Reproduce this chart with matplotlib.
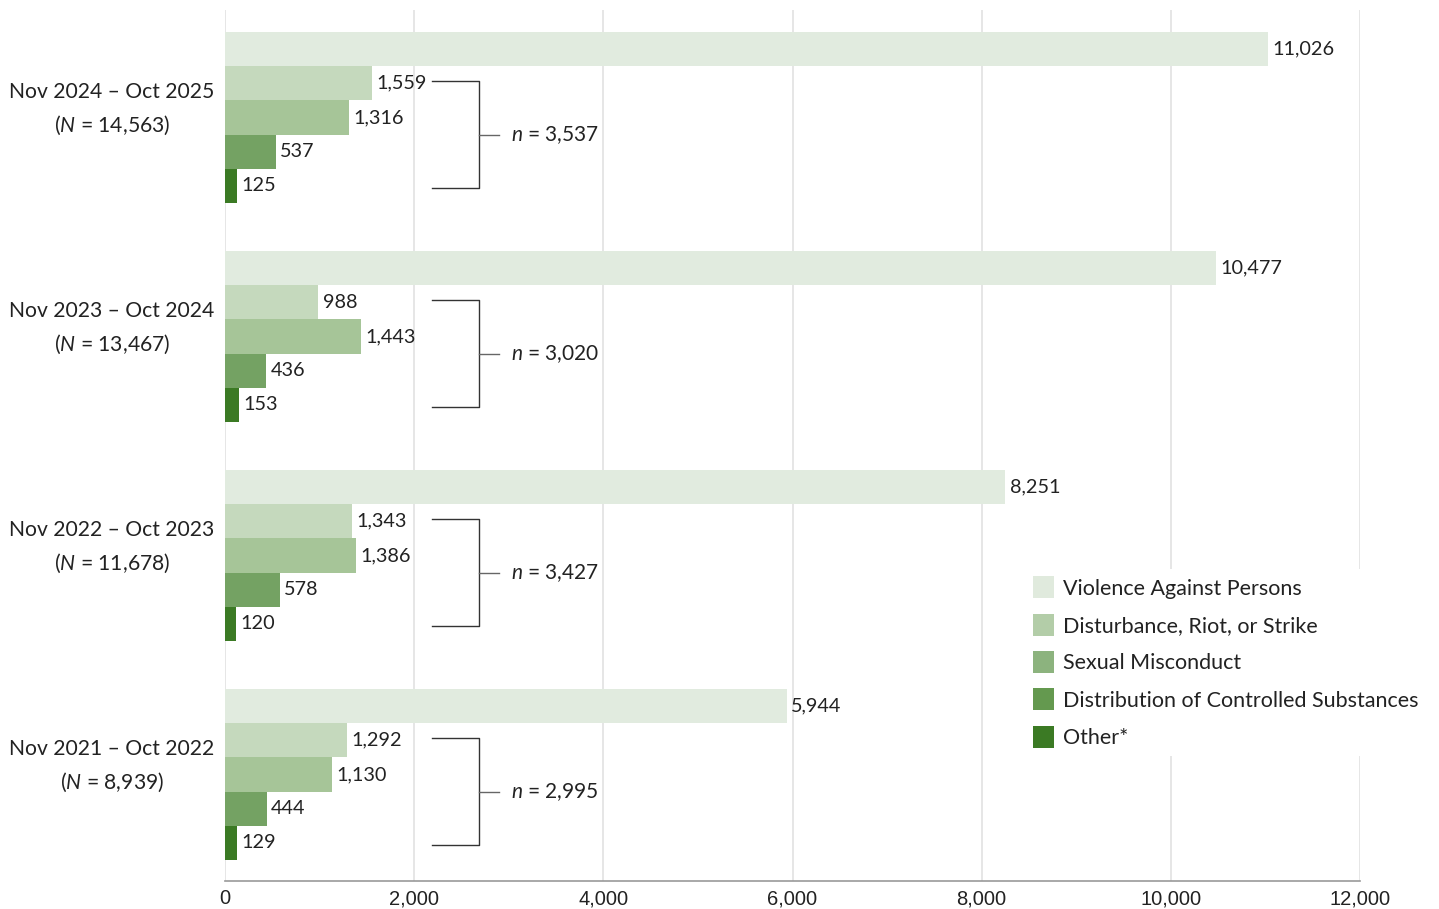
import matplotlib.pyplot as plt
import matplotlib.transforms as mtransforms
from matplotlib.patches import Patch

plt.rcParams['font.family'] = ['Lato', 'DejaVu Sans']
plt.rcParams['mathtext.fontset'] = 'custom'
plt.rcParams['mathtext.rm'] = 'Lato'
plt.rcParams['mathtext.it'] = 'Lato:italic'

periods = ["Nov 2024 \u2013 Oct 2025", "Nov 2023 \u2013 Oct 2024",
           "Nov 2022 \u2013 Oct 2023", "Nov 2021 \u2013 Oct 2022"]
totals = ["14,563", "13,467", "11,678", "8,939"]
subtotals = ["3,537", "3,020", "3,427", "2,995"]
categories = ["Violence Against Persons", "Disturbance, Riot, or Strike",
              "Sexual Misconduct", "Distribution of Controlled Substances", "Other*"]
violence = [11026, 10477, 8251, 5944]
disturbance = [1559, 988, 1343, 1292]
sexual = [1316, 1443, 1386, 1130]
distribution = [537, 436, 578, 444]
other = [125, 153, 120, 129]
series = [violence, disturbance, sexual, distribution, other]
colors = ["#e1ebdf", "#c5d9bd", "#a6c598", "#74a263", "#3b7a24"]
legend_colors = ["#e0eadd", "#b3cda8", "#8cb37e", "#64994f", "#3b7a24"]

# layout (vertical units roughly match pixels)
first_top = 32
group_step = 219
bar_h = 34.2

W, H = 1439, 909
fig = plt.figure(figsize=(W / 100, H / 100), dpi=100)
ax = fig.add_axes([225 / W, (H - 881) / H, (1360 - 225) / W, (881 - 10) / H])

def ycenter(i, j):
    return first_top + group_step * i + bar_h * (j + 0.5)

for j, vals in enumerate(series):
    ys = [ycenter(i, j) for i in range(len(periods))]
    ax.barh(ys, vals, height=bar_h, color=colors[j], zorder=3, label=categories[j])
    for y, v in zip(ys, vals):
        ax.annotate(f"{v:,}", (v, y), xytext=(3, 0), textcoords="offset points",
                    ha="left", va="center", fontsize=14.3, color="#222222", zorder=4)

ax.set_xlim(0, 12000)
ax.set_ylim(881, 10)
ax.set_xticks(range(0, 12001, 2000))
ax.set_xticklabels([f"{t:,}" for t in range(0, 12001, 2000)],
                   fontsize=14.5, family=['Liberation Sans', 'DejaVu Sans'], color="#222222")
ax.set_yticks([])
ax.tick_params(axis="x", length=0, pad=6)
ax.grid(axis="x", color="#e2e2e2", linewidth=1.2, zorder=0)
for s in ["top", "right", "left"]:
    ax.spines[s].set_visible(False)
ax.spines["bottom"].set_color("#999999")
ax.spines["bottom"].set_linewidth(1.2)

# brackets and subtotals
bx0, bx1, bx2, tx = 2190, 2685, 2895, 3020
for i in range(len(periods)):
    top = ycenter(i, 1) - 2
    bot = ycenter(i, 4) + 2
    mid = (top + bot) / 2
    ax.plot([bx0, bx1, bx1, bx0], [top, top, bot, bot], color="#333333", lw=1, zorder=4)
    ax.plot([bx1, bx2], [mid, mid], color="#666666", lw=1, zorder=4)
    ax.text(tx, mid, f"$n$ = {subtotals[i]}", ha="left", va="center",
            fontsize=15, color="#222222", zorder=4)

# group labels
trans = mtransforms.blended_transform_factory(fig.transFigure, ax.transData)
for i in range(len(periods)):
    yc = first_top + group_step * i + bar_h * 2.5 - 8
    fig.text(112 / W, yc, f"{periods[i]}\n($N$ = {totals[i]})", transform=trans,
             ha="center", va="center", fontsize=15.2, color="#222222",
             linespacing=1.6, multialignment="center")

handles = [Patch(facecolor=c, edgecolor="none") for c in legend_colors]
leg = fig.legend(handles, categories, loc="upper left",
                 bbox_to_anchor=(1015 / W, 1 - 558 / H), frameon=True,
                 fontsize=15.5, handlelength=0.95, handleheight=1.2,
                 handletextpad=0.45, labelspacing=0.7, borderpad=0.35)
leg.get_frame().set_facecolor("white")
leg.get_frame().set_edgecolor("none")
leg.get_frame().set_alpha(1)
for t in leg.get_texts():
    t.set_color("#222222")

fig.savefig("out.png", dpi=100)
